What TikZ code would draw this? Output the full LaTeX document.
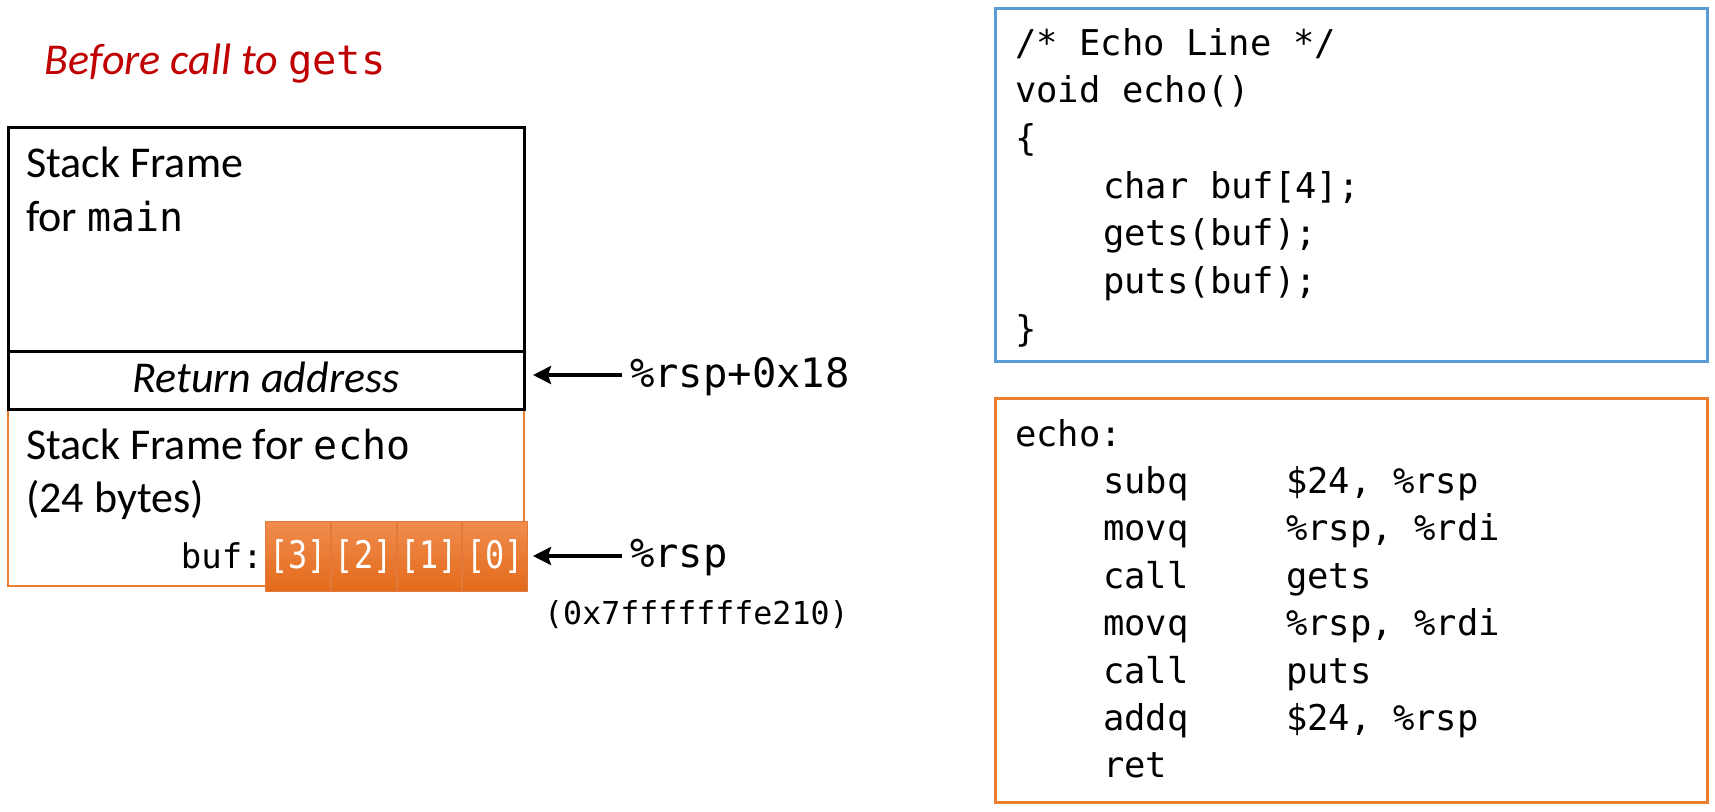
\documentclass[tikz,border=0pt]{standalone}
\usepackage{fontspec}
\setmainfont{Carlito}
\newfontfamily\codefont{DejaVu Sans Mono}
\newfontfamily\cellfont[FakeStretch=0.84]{DejaVu Sans Mono}
\usetikzlibrary{arrows.meta}
\definecolor{titlered}{HTML}{C00000}
\definecolor{frameorange}{HTML}{ED7D31}
\definecolor{frameblue}{HTML}{5B9BD5}
\definecolor{celltop}{HTML}{F08C4E}
\definecolor{cellbot}{HTML}{E36A1A}
\definecolor{cellline}{HTML}{E07A3A}
\tikzset{
  sans/.style={font=\fontsize{44}{52}\selectfont, inner sep=0pt},
  codeline/.style={font=\codefont\fontsize{35.5}{42}\selectfont, anchor=base west, inner sep=0pt},
  ptrlabel/.style={font=\codefont\fontsize{40.5}{48}\selectfont, anchor=west, inner sep=0pt},
  ptrarrow/.style={line width=4.2pt, -{Stealth[length=18pt,width=18pt,inset=3pt]}},
  bufcell/.style={top color=celltop, bottom color=cellbot, draw=cellline, line width=1pt,
    minimum width=64.75pt, minimum height=70pt, inner sep=0pt, text=white,
    font=\cellfont\fontsize{38}{44}\selectfont},
}
\begin{document}
\begin{tikzpicture}[x=1pt,y=-1pt]
\useasboundingbox (0,0) rectangle (1715,811);

% title
\node[sans, anchor=base west, text=titlered] (title) at (44,74)
  {\itshape Before call to \upshape{\codefont\fontsize{40.5}{48}\selectfont gets}};

% stack frames
\draw[frameorange, line width=2.6pt] (8,409) rectangle (524,586);
\draw[black, line width=3pt] (8,127) rectangle (524,351);
\draw[black, line width=3pt] (8,351) rectangle (524,409);

\node[sans, anchor=base west] (sfmain1) at (26,177) {Stack Frame};
\node[sans, anchor=base west] (sfmain2) at (26,231) {for {\codefont\fontsize{40}{48}\selectfont main}};
\node[sans, anchor=base] (retaddr) at (266,392) {\itshape Return address};
\node[sans, anchor=base west] (sfecho1) at (26,459) {Stack Frame for {\codefont\fontsize{40}{48}\selectfont echo}};
\node[sans, anchor=base west] (sfecho2) at (26,512) {(24 bytes)};

% buffer cells
\node[bufcell, anchor=north west] (b3) at (265,521) {[3]};
\node[bufcell, anchor=west] (b2) at (b3.east) {[2]};
\node[bufcell, anchor=west] (b1) at (b2.east) {[1]};
\node[bufcell, anchor=west] (b0) at (b1.east) {[0]};
\node[font=\codefont\fontsize{34}{40}\selectfont, anchor=east, inner sep=0pt] (buflbl) at (263,556) {buf:};

% pointers
\node[ptrlabel] (rsp18) at (630,377) {\%rsp+0x18};
\node[ptrlabel] (rsp) at (630,558) {\%rsp};
\node[font=\codefont\fontsize{31.6}{38}\selectfont, anchor=west, inner sep=0pt] (addr) at (544,615) {(0x7fffffffe210)};
\draw[ptrarrow] (rsp18.west) ++(-8,-2) coordinate (a1s) -- (533,375) coordinate (a1e);
\draw[ptrarrow] (rsp.west) ++(-8,-2) coordinate (a2s) -- (533,556) coordinate (a2e);

% C code box
\draw[frameblue, line width=3pt] (995,8) rectangle (1707,361);
\node[codeline] (c1) at (1015,55) {/* Echo Line */};
\node[codeline] (c2) at (1015,102.7) {void echo()};
\node[codeline] (c3) at (1015,150.4) {\{};
\node[codeline] (c4) at (1103,198.1) {char buf[4];};
\node[codeline] (c5) at (1103,245.8) {gets(buf);};
\node[codeline] (c6) at (1103,293.5) {puts(buf);};
\node[codeline] (c7) at (1015,341.2) {\}};

% assembly box
\draw[frameorange, line width=3pt] (995,398) rectangle (1707,802);
\node[codeline] (s0) at (1015,446) {echo:};
\node[codeline] (m1) at (1103,493.4) {subq};   \node[codeline] (o1) at (1286,493.4) {\$24, \%rsp};
\node[codeline] (m2) at (1103,540.8) {movq};   \node[codeline] (o2) at (1286,540.8) {\%rsp, \%rdi};
\node[codeline] (m3) at (1103,588.2) {call};   \node[codeline] (o3) at (1286,588.2) {gets};
\node[codeline] (m4) at (1103,635.6) {movq};   \node[codeline] (o4) at (1286,635.6) {\%rsp, \%rdi};
\node[codeline] (m5) at (1103,683) {call};     \node[codeline] (o5) at (1286,683) {puts};
\node[codeline] (m6) at (1103,730.4) {addq};   \node[codeline] (o6) at (1286,730.4) {\$24, \%rsp};
\node[codeline] (m7) at (1103,777.8) {ret};
\end{tikzpicture}
\end{document}
